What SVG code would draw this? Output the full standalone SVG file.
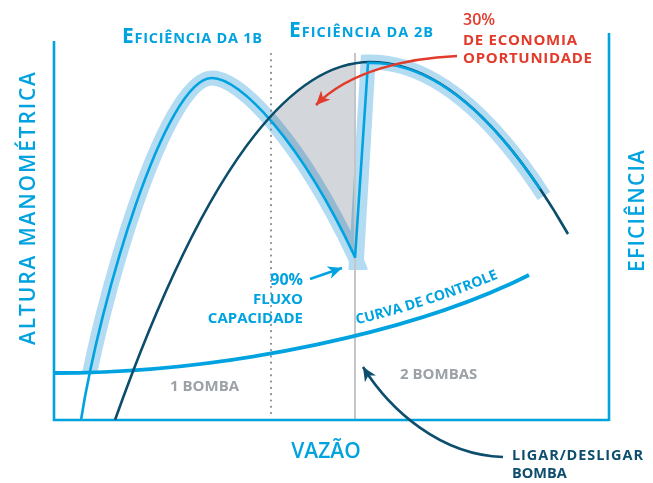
<svg xmlns="http://www.w3.org/2000/svg" width="653" height="483" viewBox="0 0 653 483">
<style>
  text { font-family: "Open Sans", "Liberation Sans", sans-serif; }
  .ax { stroke:#00a3e0; stroke-width:2.6; fill:none; }
  .hl { stroke:#b3dcf3; stroke-width:15; fill:none; }
  .eff { stroke:#00a3e0; stroke-width:2.6; fill:none; stroke-linejoin:round; }
  .head { stroke:#0b4d6b; stroke-width:2.6; fill:none; }
  .blue { fill:#00a3e0; font-weight:700; }
  .axt { fill:#00a3e0; font-weight:600; font-size:21px; }
  .gray { fill:#9ba1a6; font-weight:700; font-size:15px; }
  .red { fill:#e23b2b; font-weight:700; font-size:15px; }
  .navy { fill:#0d4e6e; font-weight:700; font-size:14.5px; }
</style>
<defs>
  <clipPath id="hlclip">
    <polygon points="0,0 653,0 653,270 330,270 330,372 0,372"/>
  </clipPath>
  <linearGradient id="fade" gradientUnits="userSpaceOnUse" x1="480" y1="0" x2="540" y2="0">
    <stop offset="0" stop-color="#00a3e0"/>
    <stop offset="1" stop-color="#0b4d6b"/>
  </linearGradient>
  <marker id="arRed" viewBox="-14 -7 15 14" markerWidth="15" markerHeight="14" refX="0" refY="0" orient="auto" markerUnits="userSpaceOnUse">
    <path d="M0,0 L-14,-6.5 L-10,0 L-14,6.5 Z" fill="#e23b2b"/>
  </marker>
  <marker id="arBlue" viewBox="-14 -7 15 14" markerWidth="15" markerHeight="14" refX="0" refY="0" orient="auto" markerUnits="userSpaceOnUse">
    <path d="M0,0 L-14,-6.5 L-10,0 L-14,6.5 Z" fill="#00a3e0"/>
  </marker>
  <marker id="arNavy" viewBox="-14 -7 15 14" markerWidth="15" markerHeight="14" refX="0" refY="0" orient="auto" markerUnits="userSpaceOnUse">
    <path d="M0,0 L-14,-6.5 L-10,0 L-14,6.5 Z" fill="#0d4e6e"/>
  </marker>
  <path id="ctrlText" d="M54,362 C230,362 420,319 529,264"/>
</defs>

<g id="highlights" clip-path="url(#hlclip)">
  <path class="hl" d="M81,420 C100,300 165,78 212,78 C240,78 300,140 355,257 L361,272" stroke-linejoin="round"/>
  <path class="hl" d="M355,285 L368,62 Q456,60.4 544,196" stroke-linejoin="miter" stroke-miterlimit="10"/>
</g>

<g id="opportunity">
  <path d="M270.35,120.08 L270.35,116.6 Q312.7,70.2 355,63.24 L355,257 C326.4,196.16 296.45,150.19 270.35,120.08 Z" fill="#d3d7dc" style="mix-blend-mode:multiply"/>
</g>

<g id="guides">
  <line x1="271" y1="54" x2="271" y2="414" stroke="#8a8f94" stroke-width="2.2" stroke-linecap="round" stroke-dasharray="0 6.3"/>
  <line x1="355" y1="53" x2="355" y2="420" stroke="#c4c6c8" stroke-width="2"/>
</g>

<g id="axes">
  <path class="ax" d="M54,41 L54,420 L609,420 M609,33 L609,421"/>
</g>

<g id="control-curve">
  <path d="M54,373 C230,373 420,330 529,275" fill="none" stroke="#00a3e0" stroke-width="3.8"/>
  <text class="blue" font-size="14"><textPath href="#ctrlText" startOffset="306">CURVA DE CONTROLE</textPath></text>
</g>

<g id="eff-1b">
  <path class="eff" d="M81,420 C100,300 165,78 212,78 C240,78 300,140 355,257"/>
</g>
<g id="head-curve">
  <path class="head" d="M115,420 Q242.5,62 370,62 Q469,62 568,234"/>
</g>
<g id="eff-2b">
  <path class="eff" d="M355,258 L368,63 Q454,60.5 540,189" stroke="url(#fade)"/>
</g>

<g id="labels">
  <text x="122" y="43" class="blue" textLength="140"><tspan font-size="21">E</tspan><tspan font-size="14.5">FICIÊNCIA DA 1B</tspan></text>
  <text x="289" y="37" class="blue" textLength="144"><tspan font-size="21">E</tspan><tspan font-size="14.5">FICIÊNCIA DA 2B</tspan></text>
  <text x="463" y="25" class="red" style="font-size:16px;font-weight:600">30%</text>
  <text x="463" y="44.5" class="red" textLength="114">DE ECONOMIA</text>
  <text x="463" y="63" class="red" textLength="129">OPORTUNIDADE</text>
  <g id="capacity">
    <text x="303" y="285" class="blue" font-size="16" text-anchor="end">90%</text>
    <text x="303" y="304" class="blue" font-size="15" text-anchor="end">FLUXO</text>
    <text x="303" y="323" class="blue" font-size="15" text-anchor="end">CAPACIDADE</text>
  </g>
  <text x="170" y="391" class="gray">1 BOMBA</text>
  <text x="400" y="379" class="gray">2 BOMBAS</text>
  <text class="axt" text-anchor="middle" transform="translate(35,208.5) rotate(-90)" textLength="273">ALTURA MANOMÉTRICA</text>
  <text class="axt" text-anchor="middle" transform="translate(644,211) rotate(-90)" textLength="122">EFICIÊNCIA</text>
  <text x="326" y="458" class="axt" text-anchor="middle">VAZÃO</text>
  <text x="512" y="460" class="navy" textLength="131">LIGAR/DESLIGAR</text>
  <text x="512" y="478" class="navy">BOMBA</text>
</g>

<g id="connectors">
  <path d="M457,56 C410,58 350,70 316,105" fill="none" stroke="#e23b2b" stroke-width="2.6" marker-end="url(#arRed)"/>
  <path d="M310,279 L342,268" fill="none" stroke="#00a3e0" stroke-width="2.6" marker-end="url(#arBlue)"/>
  <path d="M503,457 C440,455 390,410 363,367" fill="none" stroke="#0d4e6e" stroke-width="2.6" marker-end="url(#arNavy)"/>
</g>
</svg>
